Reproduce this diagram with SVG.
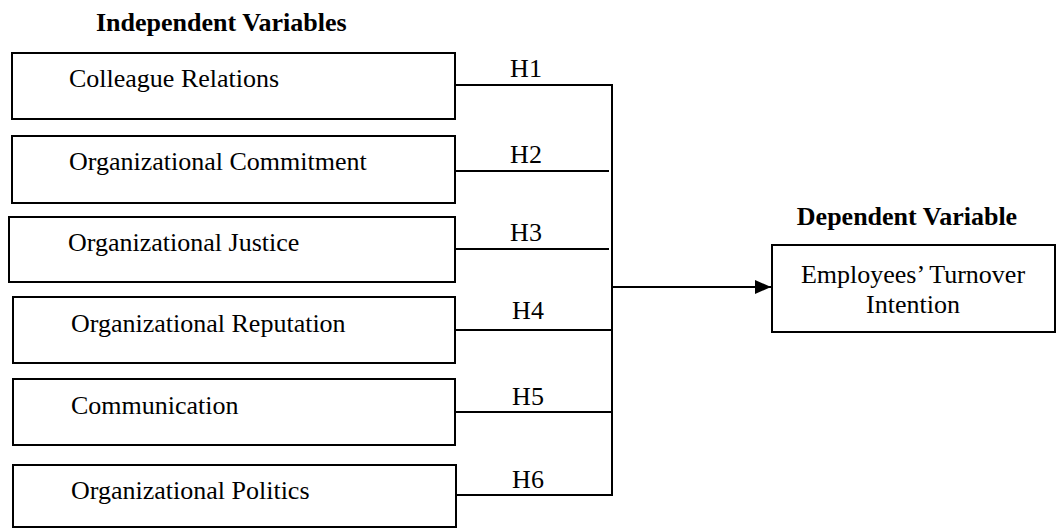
<svg xmlns="http://www.w3.org/2000/svg" width="1056" height="528" viewBox="0 0 1056 528">
<style>
.box{fill:#fff;stroke:#000;stroke-width:2}
.t{font-family:"Liberation Serif","Times New Roman",serif;font-size:26px;fill:#000}
.h{font-family:"Liberation Serif","Times New Roman",serif;font-size:26px;font-weight:bold;fill:#000}
.lbl{font-family:"Liberation Serif","Times New Roman",serif;font-size:26px;fill:#000;text-anchor:middle}
.c{fill:none;stroke:#000;stroke-width:2}
</style>
<defs>
<marker id="arr" markerWidth="16" markerHeight="14" refX="16" refY="7" orient="auto" markerUnits="userSpaceOnUse">
<path d="M0,0 L16,7 L0,14 Z" fill="#000"/>
</marker>
</defs>
<rect width="1056" height="528" fill="#fff"/>
<text class="h" x="96" y="31">Independent Variables</text>
<text class="h" x="907" y="225" text-anchor="middle">Dependent Variable</text>
<g id="n1"><rect class="box" x="12" y="53" width="443" height="66"/><text class="t" x="69" y="87">Colleague Relations</text></g>
<g id="n2"><rect class="box" x="12" y="136" width="443" height="67"/><text class="t" x="69" y="170">Organizational Commitment</text></g>
<g id="n3"><rect class="box" x="9" y="217" width="446" height="65"/><text class="t" x="68" y="251">Organizational Justice</text></g>
<g id="n4"><rect class="box" x="13" y="297" width="442" height="66"/><text class="t" x="71" y="332">Organizational Reputation</text></g>
<g id="n5"><rect class="box" x="13" y="379" width="442" height="66"/><text class="t" x="71" y="414">Communication</text></g>
<g id="n6"><rect class="box" x="13" y="465" width="443" height="62"/><text class="t" x="71" y="499">Organizational Politics</text></g>
<g id="dv"><rect class="box" x="772" y="245" width="283" height="87"/><text class="t" x="913" y="283" text-anchor="middle">Employees’ Turnover</text><text class="t" x="913" y="313" text-anchor="middle">Intention</text></g>
<g id="connectors">
<path class="c" d="M455,85 H612 M455,171 H609 M455,249 H609 M455,330 H612 M455,412 H612 M455,495 H612 M612,84 V496"/>
<path class="c" d="M612,287 H771" marker-end="url(#arr)"/>
<text class="lbl" x="526" y="77">H1</text>
<text class="lbl" x="526" y="163">H2</text>
<text class="lbl" x="526" y="241">H3</text>
<text class="lbl" x="528" y="319">H4</text>
<text class="lbl" x="528" y="405">H5</text>
<text class="lbl" x="528" y="488">H6</text>
</g>
</svg>
